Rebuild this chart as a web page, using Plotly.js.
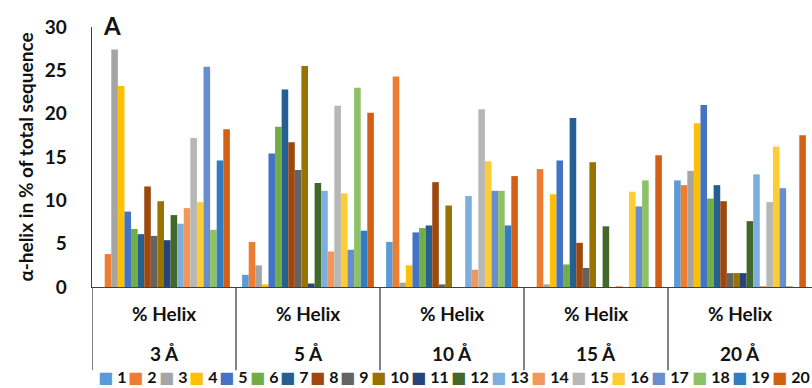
<!DOCTYPE html>
<html>
<head>
<meta charset="utf-8">
<script src="https://cdn.plot.ly/plotly-3.0.1.min.js"></script>
<style>html,body{margin:0;padding:0;background:#fff}#chart{width:812px;height:388px}</style>
</head>
<body>
<div id="chart"></div>
<script>
// Categories (outer level) and inner level label
const categories = ['3 Å', '5 Å', '10 Å', '15 Å', '20 Å'];
const innerLabel = '% Helix';
const seriesNames = ['1','2','3','4','5','6','7','8','9','10','11','12','13','14','15','16','17','18','19','20'];
const seriesColors = ['#5B9BD5','#ED7D31','#A5A5A5','#FFC000','#4472C4','#70AD47','#255E91','#9E480E','#636363','#997300',
                      '#264478','#43682B','#7CAFDD','#F1975A','#B7B7B7','#FFCD33','#698ED0','#8CC168','#327DC2','#D26012'];

// Values per cutoff (series 1..20)
const helix3A  = [0, 3.8, 27.4, 23.2, 8.7, 6.7, 6.1, 11.6, 5.9, 9.9, 5.4, 8.3, 7.3, 9.1, 17.2, 9.8, 25.4, 6.6, 14.6, 18.2];
const helix5A  = [1.4, 5.2, 2.5, 0.3, 15.4, 18.5, 22.8, 16.7, 13.5, 25.5, 0.4, 12.0, 11.1, 4.1, 20.9, 10.8, 4.3, 23.0, 6.5, 20.1];
const helix10A = [5.2, 24.3, 0.5, 2.5, 6.3, 6.8, 7.1, 12.1, 0.3, 9.4, 0, 0, 10.5, 2.0, 20.5, 14.5, 11.1, 11.1, 7.1, 12.8];
const helix15A = [0, 13.6, 0.3, 10.7, 14.6, 2.6, 19.5, 5.1, 2.2, 14.4, 0, 7.0, 0, 0.1, 0, 11.0, 9.3, 12.3, 0, 15.2];
const helix20A = [12.3, 11.75, 13.4, 18.9, 21.0, 10.2, 11.75, 9.9, 1.6, 1.6, 1.6, 7.6, 13.0, 0.1, 9.8, 16.2, 11.4, 0.1, 0, 17.5];

const groups = [helix3A, helix5A, helix10A, helix15A, helix20A];
const yTicks = [0, 5, 10, 15, 20, 25, 30];

const FONT = 'Lato, "Open Sans", "DejaVu Sans", sans-serif';
const TXT = '#111111';

const traces = seriesNames.map((name, i) => ({
  type: 'bar',
  name: name,
  x: categories.map((c, k) => k),
  y: groups.map(g => g[i]),
  marker: { color: seriesColors[i], line: { width: 0 } },
  showlegend: false,
  hoverinfo: 'name+y'
}));

const annotations = [];
// Category labels (two levels)
categories.forEach((c, k) => {
  annotations.push({ xref: 'x', yref: 'paper', x: k, y: 0, yanchor: 'middle', yshift: -26,
    text: '<b>' + innerLabel + '</b>', showarrow: false, font: { family: FONT, size: 19, color: TXT } });
  annotations.push({ xref: 'x', yref: 'paper', x: k, y: 0, yanchor: 'middle', yshift: -66,
    text: '<b>' + c + '</b>', showarrow: false, font: { family: FONT, size: 19, color: TXT } });
});
// Panel letter
annotations.push({ xref: 'paper', yref: 'paper', x: 0, y: 1, xanchor: 'left', yanchor: 'middle',
  xshift: 9, yshift: 2, text: '<b>A</b>', showarrow: false, font: { family: FONT, size: 24, color: TXT } });

// Legend row (built from names and colours)
let lx = 96;
seriesNames.forEach((name, i) => {
  annotations.push({ xref: 'paper', yref: 'paper', x: 0, y: 0, xanchor: 'left', yanchor: 'middle',
    xshift: lx - 92, yshift: -89,
    text: '<span style="color:' + seriesColors[i] + '">■</span> <b>' + name + '</b>',
    showarrow: false, font: { family: FONT, size: 16, color: TXT } });
  lx += 20.5 + 9.8 * name.length;
});

// Dividers between categories
const shapes = [];
for (let k = 0; k < categories.length; k++) {
  shapes.push({ type: 'line', xref: 'x', yref: 'paper', x0: k - 0.5, x1: k - 0.5, y0: 0, y1: -0.32,
    line: { color: '#404040', width: 1.3 } });
}

const layout = {
  width: 812, height: 388,
  margin: { l: 92, r: 0, t: 27, b: 101 },
  paper_bgcolor: '#fff', plot_bgcolor: '#fff',
  barmode: 'group', bargap: 0.085, bargroupgap: 0,
  font: { family: FONT, color: TXT },
  xaxis: { range: [-0.5, 4.5], showticklabels: false, showgrid: false, zeroline: false,
    showline: true, linecolor: '#404040', linewidth: 1.3, ticks: '', fixedrange: true },
  yaxis: { range: [0, 30], tickvals: yTicks, showgrid: false, zeroline: false,
    showline: true, linecolor: '#404040', linewidth: 1.3, ticks: '', ticklabelstandoff: 20,
    tickfont: { family: FONT, size: 19, color: TXT, weight: 700 },
    title: { text: '<b>α-helix in % of total sequence</b>', standoff: 6,
      font: { family: FONT, size: 19, color: TXT } } },
  annotations: annotations,
  shapes: shapes,
  showlegend: false
};

Plotly.newPlot('chart', traces, layout, { displayModeBar: false, staticPlot: true });
</script>
</body>
</html>
